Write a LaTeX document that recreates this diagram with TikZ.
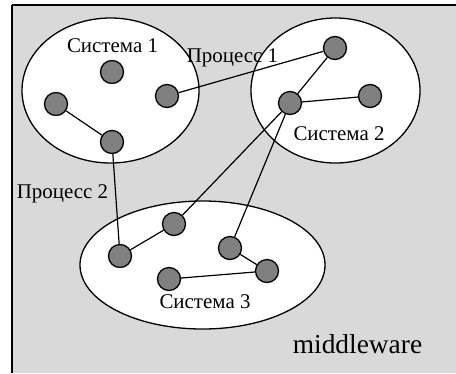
\documentclass[tikz,border=0pt]{standalone}
\usepackage{fontspec}
\setmainfont{Liberation Serif}
\usetikzlibrary{shapes.geometric}
\definecolor{bggray}{HTML}{D9D9D9}
\definecolor{dotgray}{HTML}{808080}
\begin{document}
\begin{tikzpicture}[x=1bp,y=-1bp,
  sysell/.style={draw=black, fill=white, ellipse, line width=1.3bp, inner sep=0pt},
  proc/.style={draw=black, fill=dotgray, circle, line width=1.3bp, minimum size=23bp, inner sep=0pt},
  link/.style={draw=black, line width=1.2bp},
  lbl/.style={font=\fontsize{21}{21}\selectfont, inner sep=0pt, anchor=base}]
\useasboundingbox (0,0) rectangle (456,373);
\fill[bggray] (12,5) rectangle (456,373);
\draw[line width=2bp] (12,373) -- (12,5);
\draw[line width=1.5bp] (12,5) -- (456,5);
% systems
\node[sysell, minimum width=177bp, minimum height=145bp] (s1) at (110.5,90.5) {};
\node[sysell, minimum width=169bp, minimum height=145bp] (s2) at (335.5,90.5) {};
\node[sysell, minimum width=245bp, minimum height=128bp] (s3) at (202.5,265) {};
% processes
\node[proc] (a) at (112,72) {};
\node[proc] (b) at (167,96) {};
\node[proc] (c) at (56,104) {};
\node[proc] (d) at (112,142) {};
\node[proc] (e) at (335,48) {};
\node[proc] (f) at (290,103) {};
\node[proc] (g) at (370,96) {};
\node[proc] (h) at (120,256) {};
\node[proc] (i) at (174,224) {};
\node[proc] (j) at (230,248) {};
\node[proc] (k) at (267,271) {};
\node[proc] (l) at (169,279) {};
% links
\draw[link] (b) -- (e);
\draw[link] (c) -- (d);
\draw[link] (d) -- (h);
\draw[link] (e) -- (f);
\draw[link] (f) -- (g);
\draw[link] (f) -- (i);
\draw[link] (f) -- (j);
\draw[link] (h) -- (i);
\draw[link] (j) -- (k);
\draw[link] (l) -- (k);
% labels
\node[lbl] (t1) at (112.5,52) {Система 1};
\node[lbl] (t2) at (339,140) {Система 2};
\node[lbl] (t3) at (205,308) {Система 3};
\node[lbl] (p1) at (232.5,62) {Процесс 1};
\node[lbl] (p2) at (62.5,198) {Процесс 2};
\node[lbl, font=\fontsize{27.5}{27.5}\selectfont] (mw) at (357.5,353) {middleware};
\end{tikzpicture}
\end{document}
